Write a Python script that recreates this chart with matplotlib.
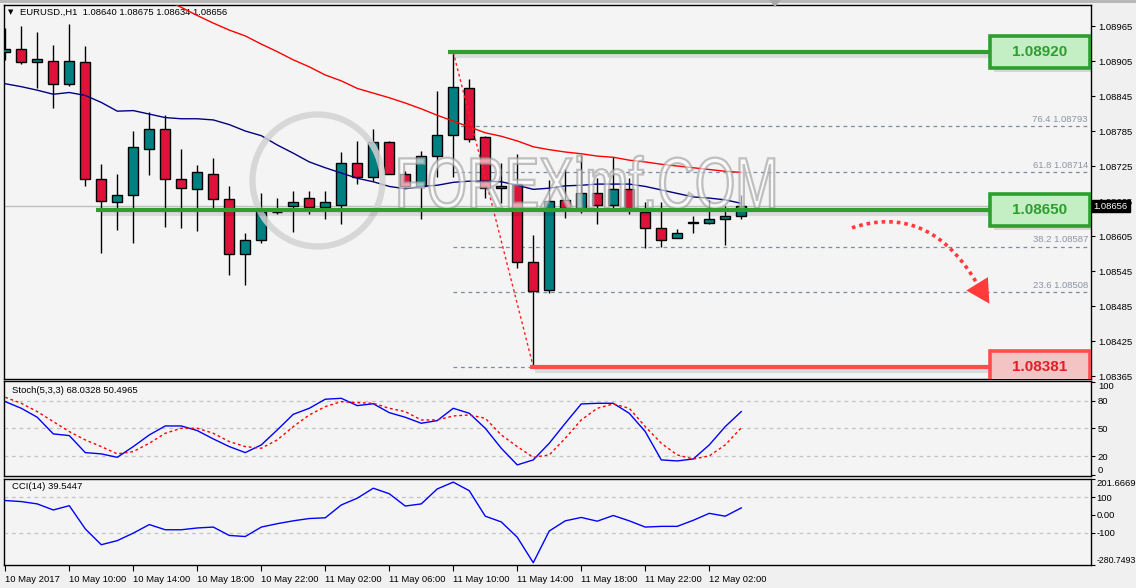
import numpy as np
import matplotlib.pyplot as plt
from matplotlib.patches import Rectangle, Ellipse, PathPatch, Polygon
from matplotlib.textpath import TextPath
from matplotlib.font_manager import FontProperties
from matplotlib.transforms import Affine2D, blended_transform_factory

plt.rcParams['font.family'] = ['Liberation Sans', 'DejaVu Sans']
plt.rcParams['font.size'] = 6.8

# ---- data (EURUSD H1, first bar = 10 May 06:00) ----
time_labels = ['10 May 2017', '10 May 10:00', '10 May 14:00', '10 May 18:00',
               '10 May 22:00', '11 May 02:00', '11 May 06:00', '11 May 10:00',
               '11 May 14:00', '11 May 18:00', '11 May 22:00', '12 May 02:00']

opens = [1.08920, 1.08925, 1.08903, 1.08905, 1.08865, 1.08903, 1.08702, 1.08664, 1.08676, 1.08755,
         1.08788, 1.08702, 1.08686, 1.08712, 1.08668, 1.08575, 1.08599, 1.08646, 1.08656, 1.08671,
         1.08654, 1.08659, 1.08730, 1.08707, 1.08766, 1.08712, 1.08690, 1.08742, 1.08778, 1.08858,
         1.08774, 1.08687, 1.08694, 1.08561, 1.08512, 1.08666, 1.08652, 1.08678, 1.08658, 1.08685,
         1.08647, 1.08618, 1.08601, 1.08628, 1.08627, 1.08634, 1.08640]
highs = [1.08962, 1.08965, 1.08954, 1.08932, 1.08968, 1.08931, 1.08728, 1.08712, 1.08785, 1.08818,
         1.08812, 1.08754, 1.08727, 1.08739, 1.08691, 1.08610, 1.08678, 1.08671, 1.08682, 1.08682,
         1.08682, 1.08749, 1.08768, 1.08788, 1.08768, 1.08716, 1.08751, 1.08854, 1.08920, 1.08874,
         1.08776, 1.08731, 1.08746, 1.08607, 1.08701, 1.08720, 1.08744, 1.08704, 1.08740, 1.08704,
         1.08664, 1.08663, 1.08617, 1.08640, 1.08666, 1.08656, 1.08675]
lows = [1.08907, 1.08900, 1.08858, 1.08825, 1.08862, 1.08690, 1.08576, 1.08615, 1.08593, 1.08710,
        1.08621, 1.08618, 1.08614, 1.08653, 1.08539, 1.08521, 1.08593, 1.08643, 1.08612, 1.08642,
        1.08634, 1.08625, 1.08694, 1.08699, 1.08712, 1.08687, 1.08634, 1.08706, 1.08707, 1.08767,
        1.08671, 1.08661, 1.08551, 1.08381, 1.08508, 1.08636, 1.08644, 1.08626, 1.08652, 1.08643,
        1.08585, 1.08587, 1.08601, 1.08611, 1.08625, 1.08590, 1.08634]
closes = [1.08925, 1.08903, 1.08908, 1.08866, 1.08905, 1.08702, 1.08665, 1.08676, 1.08757, 1.08788,
          1.08702, 1.08688, 1.08714, 1.08668, 1.08575, 1.08599, 1.08646, 1.08647, 1.08664, 1.08654,
          1.08663, 1.08731, 1.08706, 1.08766, 1.08712, 1.08690, 1.08743, 1.08778, 1.08860, 1.08772,
          1.08688, 1.08691, 1.08561, 1.08511, 1.08665, 1.08653, 1.08678, 1.08658, 1.08685, 1.08652,
          1.08618, 1.08598, 1.08610, 1.08629, 1.08634, 1.08639, 1.08656]

ma_blue = [1.08866, 1.08861, 1.08855, 1.08848, 1.08851, 1.08846, 1.08834, 1.08819, 1.08820, 1.08814,
           1.08808, 1.08806, 1.08806, 1.08804, 1.08796, 1.08785, 1.08777, 1.08761, 1.08747, 1.08732,
           1.08722, 1.08713, 1.08704, 1.08698, 1.08690, 1.08686, 1.08690, 1.08692, 1.08697, 1.08699,
           1.08699, 1.08698, 1.08692, 1.08685, 1.08687, 1.08691, 1.08692, 1.08694, 1.08694, 1.08694,
           1.08690, 1.08684, 1.08678, 1.08672, 1.08670, 1.08667, 1.08661]
ma_red_start = 10
ma_red = [1.09010, 1.08997, 1.08983, 1.08970, 1.08958, 1.08948, 1.08934, 1.08921, 1.08907, 1.08895,
          1.08881, 1.08871, 1.08858, 1.08850, 1.08842, 1.08833, 1.08823, 1.08812, 1.08802, 1.08792,
          1.08782, 1.08776, 1.08768, 1.08758, 1.08753, 1.08749, 1.08746, 1.08742, 1.08740, 1.08735,
          1.08732, 1.08728, 1.08725, 1.08722, 1.08719, 1.08716, 1.08714]

stoch_k = [78.8, 71.6, 61.9, 43.9, 42.1, 23.7, 22.3, 18.6, 30.2, 42.8,
           52.5, 52.5, 47.5, 38.5, 30.2, 23.7, 32.0, 48.2, 65.1, 71.6,
           81.4, 82.4, 74.5, 76.5, 66.9, 61.9, 55.4, 58.3, 71.6, 66.2,
           50.0, 28.4, 10.4, 15.8, 33.8, 55.4, 76.3, 77.0, 77.0, 66.2,
           46.4, 15.8, 14.7, 16.8, 32.0, 51.8, 68.03]
stoch_d = [83.5, 77.0, 68.0, 57.2, 46.4, 37.4, 30.2, 22.3, 24.8, 33.8,
           44.6, 50.0, 50.0, 44.6, 35.6, 30.2, 28.4, 37.4, 51.8, 64.4,
           73.4, 78.8, 77.7, 77.0, 71.6, 68.0, 59.0, 59.0, 63.3, 64.4,
           60.8, 42.8, 30.2, 18.6, 21.2, 39.2, 59.0, 71.6, 76.3, 71.6,
           51.8, 33.8, 21.2, 16.8, 20.1, 32.0, 50.50]
cci = [81, 75, 62, 28, 52, -78, -167, -144, -102, -54,
       -83, -83, -73, -68, -115, -121, -68, -49, -33, -20,
       -16, 56, 94, 150, 119, 50, 62, 146, 184, 136,
       -7, -39, -125, -268, -90, -33, -14, -35, -3, -33,
       -68, -64, -64, -30, 9, -7, 39.54]

fib_high, fib_low = 1.08920, 1.08381
fib_levels = [0.0, 23.6, 38.2, 50.0, 61.8, 76.4, 100.0]
fib_labelled = [23.6, 38.2, 61.8, 76.4]
levels = [(1.08920, '#2E9E2E', '#C4EEC4', '#2E9E2E', 27.7),
          (1.08650, '#2E9E2E', '#C4EEC4', '#2E9E2E', 5.7),
          (1.08381, '#FF4D4D', '#F4C4C4', '#E41E26', 32.8)]
last_price = 1.08656
price_ticks = [1.08965, 1.08905, 1.08845, 1.08785, 1.08725, 1.08665,
               1.08605, 1.08545, 1.08485, 1.08425, 1.08365]

bars = np.arange(len(opens))
o, h, l, c = map(np.array, (opens, highs, lows, closes))

# ---- layout ----
W, H = 1136, 588
fig = plt.figure(figsize=(W / 100, H / 100), dpi=100, facecolor='#F0F0F0')


def px_axes(left, top, right, bottom):
    a = fig.add_axes([left / W, 1 - bottom / H, (right - left) / W, (bottom - top) / H])
    a.set_facecolor('#F4F4F4')
    for s in a.spines.values():
        s.set_color('black')
        s.set_linewidth(1)
    a.yaxis.tick_right()
    a.tick_params(axis='y', direction='out', length=3, width=0.8, pad=2, labelsize=6.8)
    a.set_xlim(-0.08, 67.86)
    return a


ax = px_axes(4, 5, 1091, 379)
ax_st = px_axes(4, 381, 1091, 476)
ax_cci = px_axes(4, 479, 1091, 565)
for a in (ax, ax_st):
    a.set_xticks([])

fig.add_artist(Rectangle((0, 1 - 3 / H), 1, 3 / H, transform=fig.transFigure,
                         color='#B8B8B8', lw=0))
fig.add_artist(Polygon([(769 / W, 1.0), (781 / W, 1.0), (775 / W, 1 - 7 / H)],
                       transform=fig.transFigure, color='#A8A8A8', lw=0))

# ---- main price chart ----
ax.set_ylim(1.083599, 1.09001)
ax.set_yticks(price_ticks)
ax.set_yticklabels(['%.5f' % p for p in price_ticks])

ax.axhline(last_price, color='#C0C0C0', lw=1, zorder=1)

ax.vlines(bars, l, h, color='black', lw=1, zorder=3)
ax.bar(bars, np.abs(c - o), bottom=np.minimum(o, c), width=0.62,
       color=np.where(c >= o, '#008080', '#DC143C'), edgecolor='black',
       linewidth=1, zorder=4)

ax.plot(bars, ma_blue, color='#000080', lw=1, zorder=5)
ax.plot(bars[ma_red_start:], ma_red, color='#FF0000', lw=1, zorder=5)

# fibonacci retracement
i_hi, i_lo = 28, 33
for lv in fib_levels:
    p = fib_low + (fib_high - fib_low) * lv / 100
    ax.hlines(p, i_hi, 67.86, color='#7C8AA4', lw=0.9, linestyles=(0, (3, 3)), zorder=2)
    if lv in fib_labelled:
        ax.annotate('%.1f %.5f' % (lv, p), (67.67, p), xytext=(0, 2),
                    textcoords='offset points', ha='right', va='bottom',
                    color='#8A94A6', fontsize=6.8, zorder=2)
ax.plot([i_hi, i_lo], [fib_high, fib_low], color='#FF2020', lw=1,
        ls=(0, (2, 2)), zorder=6)

# watermark
ring = Ellipse((3.175, 4.075), 1.30, 1.32, transform=fig.dpi_scale_trans,
               fill=False, edgecolor='#D2D2D2', lw=4.5, alpha=0.85, zorder=7)
ax.add_patch(ring)
tp = TextPath((0, 0), 'FOREXimf.COM', size=1, prop=FontProperties(family='Liberation Sans'))
ext = tp.get_extents()
tr = Affine2D().scale(375 / ext.width / 100, 53 / ext.height / 100).translate(3.95, 3.80)
ax.add_patch(PathPatch(tp, transform=tr + fig.dpi_scale_trans, facecolor='white',
                       edgecolor='#9A9A9A', lw=1.6, alpha=0.6, zorder=7))

# support / resistance lines with value boxes
px = 1 / 58333.3
for price, edge, face, txt, start in levels:
    ax.hlines(price - 4 * px, start + 0.3, 61.6, color='#000000', lw=3, alpha=0.10, zorder=8)
    ax.hlines(price, start, 61.6, color=edge, lw=3, zorder=9)
    ax.add_patch(Rectangle((61.54 + 0.25, price - 16 * px - 4 * px), 6.25, 32 * px,
                           facecolor='black', alpha=0.12, lw=0, zorder=9))
    ax.add_patch(Rectangle((61.54, price - 16 * px), 6.25, 32 * px, facecolor=face,
                           edgecolor=edge, lw=2.6, zorder=10))
    ax.text(64.67, price, '%.5f' % price, ha='center', va='center', color=txt,
            fontsize=11, fontweight='bold', zorder=11)

# dotted curved arrow
p0 = np.array([52.92, 1.08619])
p1 = np.array([57.79, 1.08663])
p2 = np.array([60.79, 1.08521])
t = np.linspace(0, 1, 60)[:, None]
curve = (1 - t) ** 2 * p0 + 2 * (1 - t) * t * p1 + t ** 2 * p2
ax.plot(curve[:, 0], curve[:, 1], color='#FF3B3B', lw=2.6, ls=(0, (1, 1.1)), zorder=9)
ax.annotate('', xy=(61.6, 1.08485), xytext=tuple(p2),
            arrowprops=dict(arrowstyle='-|>,head_length=0.7,head_width=0.38',
                            color='#FF3B3B', lw=0, mutation_scale=24), zorder=9)

# title and current price
ax.text(4 / 1087, 1 - 7 / 374, '\u25BC', transform=ax.transAxes, fontsize=5,
        va='center', ha='left', family=['DejaVu Sans'])
ax.text(16 / 1087, 1 - 7 / 374, 'EURUSD.,H1  1.08640 1.08675 1.08634 1.08656',
        transform=ax.transAxes, va='center', ha='left')
ax.text(1.0025, last_price, '%.5f' % last_price,
        transform=blended_transform_factory(ax.transAxes, ax.transData),
        color='white', ha='left', va='center', clip_on=False, zorder=12,
        bbox=dict(facecolor='black', edgecolor='black', pad=1.2))

# ---- stochastic ----
ax_st.set_ylim(-1.6, 101.1)
for lv in (80, 50, 20):
    ax_st.axhline(lv, color='#C4C4C4', lw=0.9, ls=(0, (3, 3)), zorder=1)
ax_st.plot(bars, stoch_k, color='#0000FF', lw=1, zorder=3)
ax_st.plot(bars, stoch_d, color='#FF0000', lw=1, ls=(0, (2, 2)), zorder=3)
ax_st.set_yticks([100, 80, 50, 20, 0])
ax_st.set_yticklabels(['100', '80', '50', '20', '0'])
lab = ax_st.get_yticklabels()
lab[0].set_va('top')
lab[-1].set_va('bottom')
ax_st.text(8 / 1087, 1 - 9.7 / 95, 'Stoch(5,3,3) 68.0328 50.4965',
           transform=ax_st.transAxes, va='center', ha='left')

# ---- CCI ----
cci_min, cci_max = -280.7493, 201.6669
ax_cci.set_ylim(cci_min, cci_max)
for lv in (100, -100):
    ax_cci.axhline(lv, color='#C4C4C4', lw=0.9, ls=(0, (3, 3)), zorder=1)
ax_cci.plot(bars, cci, color='#0000FF', lw=1, zorder=3)
ax_cci.set_yticks([cci_max, 100, 0, -100, cci_min])
ax_cci.set_yticklabels(['201.6669', '100', '0.00', '-100', '-280.7493'])
ax_cci.tick_params(axis='y', pad=1)
lab = ax_cci.get_yticklabels()
lab[0].set_va('top')
lab[-1].set_va('bottom')
lab[-1].set_fontsize(6.3)
ax_cci.text(8 / 1087, 1 - 7.7 / 86, 'CCI(14) 39.5447',
            transform=ax_cci.transAxes, va='center', ha='left')

ax_cci.set_xticks(bars[::4])
ax_cci.set_xticklabels(time_labels, ha='left')
ax_cci.tick_params(axis='x', direction='out', length=4, width=0.8, pad=3, labelsize=6.8)

fig.savefig('out.png', dpi=100, facecolor=fig.get_facecolor())
